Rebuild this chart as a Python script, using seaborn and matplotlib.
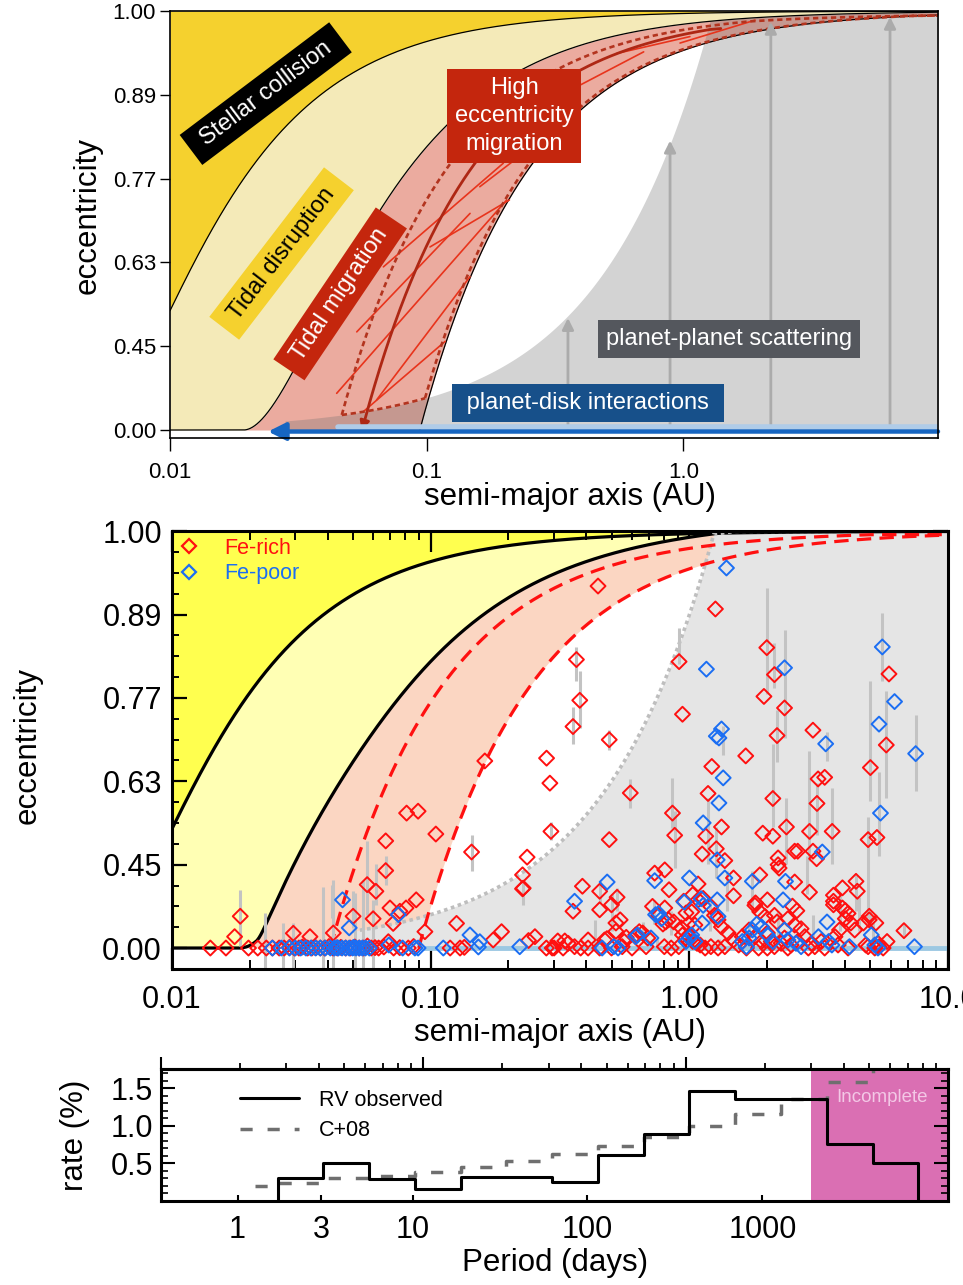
import numpy as np
import pandas as pd
import matplotlib
matplotlib.use("Agg")
import matplotlib.pyplot as plt
import seaborn as sns
from matplotlib.lines import Line2D
from matplotlib.ticker import (FixedLocator, FixedFormatter, NullLocator,
                               NullFormatter, LogLocator)

sns.set_theme(style="white")
plt.rcParams["font.family"] = ["Liberation Sans", "DejaVu Sans"]
plt.rcParams.update({
    "text.color": "black", "axes.labelcolor": "black",
    "xtick.color": "black", "ytick.color": "black",
    "axes.edgecolor": "black", "axes.linewidth": 1.1,
})

# ------------------------------------------------------------------ data
# eccentricity axis is linear in e^2
ecc_sq_major = [0.0, 0.2, 0.4, 0.6, 0.8, 1.0]
ecc_major_labels = ["0.00", "0.45", "0.63", "0.77", "0.89", "1.00"]
ecc_sq_minor = [0.05, 0.10, 0.15, 0.25, 0.30, 0.35, 0.45, 0.50, 0.55,
                0.65, 0.70, 0.75, 0.85, 0.90, 0.95]
sma_major = [0.01, 0.1, 1.0, 10.0]
sma_labels_top = ["0.01", "0.1", "1.0", ""]
sma_labels_mid = ["0.01", "0.10", "1.00", "10.0"]

# schematic boundaries, upper panel (AU)
q_collision, p_collision = 0.005, 1.1   # 1 - e = (q / a)^p at the stellar surface
top_q_disrupt, top_p_disrupt = 0.0193, 1.05
top_L_edge = 0.094            # a(1-e^2) closing the tidal-migration band
top_L_inner, top_L_outer = 0.045, 0.091
top_L_track = 0.056
top_a_scatter = 1.3           # e^2 = a / a_scatter
top_a_disk = 0.028

# thin tidal tracks: start (a, e) -> end (a, e)
track_a0 = [0.0446, 0.0566, 0.0534, 0.0678, 0.0638, 0.103, 0.161, 0.36, 0.55, 0.97]
track_e0 = [0.296, 0.209, 0.484, 0.624, 0.268, 0.661, 0.762, 0.90, 0.948, 0.961]
track_a1 = [0.205, 0.118, 0.1475, 0.1988, 0.1475, 0.21, 0.395, 0.70, 1.06, 1.9]
track_e1 = [0.741, 0.46, 0.719, 0.798, 0.605, 0.741, 0.874, 0.95, 0.969, 0.989]

# scattering arrows: semi-major axis and eccentricity reached
kick_a = [0.355, 0.887, 2.19, 6.38]
kick_e = [0.517, 0.831, 0.987, 0.993]

# schematic boundaries, middle panel (AU)
mid_q_disrupt = 0.0185
mid_a_disrupt = 0.0213
mid_L1, mid_L2 = 0.041, 0.090
mid_a_scatter = 1.25
mid_a_scatter_start = 0.05
mid_a_disk = 0.093

# observed planets (a [AU], e)
rich_inner = [(0.0808, 0.569), (0.0895, 0.573), (0.0671, 0.507), (0.0671, 0.431),
              (0.0569, 0.390), (0.0615, 0.369), (0.0880, 0.340), (0.0697, 0.310),
              (0.0804, 0.310), (0.0761, 0.297), (0.0184, 0.276), (0.0502, 0.276),
              (0.0600, 0.265), (0.0175, 0.165), (0.0295, 0.188), (0.0342, 0.165),
              (0.0421, 0.190), (0.0717, 0.243), (0.0687, 0.123), (0.0951, 0.198)]
rich_circular = [(0.0141, 0), (0.0162, 0), (0.0198, 0), (0.0215, 0), (0.0232, 0),
                 (0.0245, 0), (0.0260, 0), (0.0272, 0), (0.0285, 0.04), (0.0298, 0),
                 (0.0310, 0), (0.0320, 0.05), (0.0335, 0), (0.0348, 0), (0.0360, 0.03),
                 (0.0375, 0), (0.0390, 0), (0.0405, 0.06), (0.0420, 0), (0.0436, 0),
                 (0.0450, 0.04), (0.0470, 0), (0.0490, 0), (0.0510, 0.05), (0.0530, 0),
                 (0.0550, 0), (0.0570, 0.07), (0.0590, 0), (0.0610, 0.03), (0.0630, 0),
                 (0.0660, 0.05), (0.0720, 0), (0.0760, 0.03), (0.0820, 0), (0.0860, 0.06),
                 (0.119, 0), (0.130, 0), (0.135, 0.04)]
rich_warm = [(0.126, 0.243), (0.1745, 0.139), (0.188, 0.198), (0.228, 0.379),
             (0.239, 0.134), (0.253, 0.165), (0.280, 0), (0.295, 0), (0.1048, 0.523),
             (0.144, 0.480), (0.162, 0.670), (0.236, 0.467), (0.2266, 0.419),
             (0.2266, 0.377), (0.4435, 0.932), (0.366, 0.832), (0.377, 0.771),
             (0.355, 0.729), (0.490, 0.707), (0.2806, 0.675), (0.289, 0.629),
             (0.912, 0.829), (0.940, 0.749), (0.591, 0.610), (0.860, 0.569),
             (0.877, 0.520), (0.490, 0.510), (0.2917, 0.529), (0.386, 0.385),
             (0.450, 0.369), (0.5255, 0.349), (0.500, 0.322), (0.450, 0.303),
             (0.355, 0.297), (0.803, 0.433), (0.734, 0.424), (0.834, 0.374),
             (0.720, 0.316), (0.803, 0.310), (0.52, 0.245), (0.52, 0.20), (0.54, 0.26),
             (0.56, 0.125), (0.57, 0.16), (0.406, 0.139), (0.406, 0), (0.45, 0),
             (0.31, 0.13), (0.33, 0.13), (0.34, 0.106), (0.30, 0), (0.325, 0),
             (0.47, 0.139), (0.48, 0.15), (0.64, 0.198), (0.66, 0.19), (0.62, 0.177),
             (0.69, 0.155), (0.68, 0.057), (0.76, 0.28), (0.79, 0.24), (0.81, 0.25),
             (0.83, 0.26), (0.87, 0.25), (0.93, 0.22), (0.97, 0.29), (0.99, 0.24),
             (0.94, 0.177), (0.97, 0.155), (0.36, 0.057), (0.38, 0), (0.5, 0),
             (0.55, 0.057), (0.60, 0), (0.80, 0.057), (0.85, 0), (0.91, 0.057),
             (0.95, 0.335)]
rich_cold = [(1.26, 0.902), (1.99, 0.849), (2.13, 0.81), (1.94, 0.777), (2.33, 0.759),
             (2.18, 0.714), (5.9, 0.811), (5.76, 0.698), (3.0, 0.723), (1.65, 0.679),
             (1.22, 0.66), (1.18, 0.609), (3.14, 0.637), (3.33, 0.64), (5.0, 0.658),
             (2.10, 0.599), (3.11, 0.589), (1.33, 0.539), (1.156, 0.518), (1.92, 0.525),
             (2.1, 0.518), (2.37, 0.539), (2.91, 0.529), (3.56, 0.529), (4.9, 0.51),
             (5.3, 0.515), (1.27, 0.488), (1.12, 0.475), (1.37, 0.458), (2.55, 0.482),
             (2.62, 0.482), (3.0, 0.482), (3.1, 0.463), (2.2, 0.465), (2.2, 0.447),
             (2.22, 0.438), (1.48, 0.41), (1.87, 0.419), (2.55, 0.398), (1.08, 0.392),
             (1.48, 0.354), (2.91, 0.366), (3.6, 0.356), (3.9, 0.38), (4.4, 0.40),
             (4.45, 0.369), (1.8, 0.329), (2.0, 0.34), (3.6, 0.322), (3.9, 0.31),
             (1.03, 0.358), (2.5, 0.317), (2.6, 0.299), (4.95, 0.276), (1.02, 0.295),
             (1.05, 0.235), (1.0, 0.165), (1.03, 0.125), (1.07, 0.106), (1.10, 0.085),
             (1.08, 0.34), (1.13, 0.345), (1.21, 0.315), (1.25, 0.28), (1.29, 0.26),
             (1.33, 0.225), (1.41, 0.19), (1.79, 0.32), (1.87, 0.295), (1.96, 0.275),
             (2.13, 0.28), (2.18, 0.25), (2.4, 0.265), (2.55, 0.235), (2.7, 0.215),
             (3.6, 0.335), (4.0, 0.30), (4.1, 0.288), (4.0, 0.265), (4.2, 0.245),
             (4.7, 0.245), (4.95, 0.26), (5.25, 0.245), (4.9, 0.057), (5.2, 0),
             (5.35, 0.106), (5.8, 0.125), (6.74, 0.204), (1.48, 0.139), (1.6, 0.165),
             (1.7, 0.208), (1.79, 0.165), (1.9, 0.125), (2.0, 0.19), (2.07, 0.125),
             (2.13, 0.057), (2.26, 0.106), (2.33, 0.155), (2.47, 0.085), (2.62, 0.125),
             (2.79, 0.165), (2.96, 0.106), (3.05, 0.057), (3.23, 0.125), (3.65, 0.165),
             (3.75, 0.085), (3.8, 0.208), (4.1, 0), (4.35, 0.208), (4.8, 0.085),
             (5.4, 0.057), (5.6, 0), (1.15, 0), (1.21, 0.057), (1.29, 0), (1.37, 0.057),
             (1.55, 0.085), (1.66, 0), (1.85, 0), (2.0, 0), (2.4, 0), (2.88, 0), (3.33, 0)]

poor_inner = [(0.0457, 0.34), (0.0751, 0.283), (0.0485, 0.22), (0.069, 0.085),
              (0.142, 0.177), (0.155, 0.123), (0.153, 0.05), (0.221, 0.056),
              (0.112, 0), (0.0895, 0), (0.087, 0), (0.078, 0), (0.0245, 0),
              (0.0265, 0), (0.0285, 0), (0.030, 0), (0.0315, 0), (0.033, 0),
              (0.0345, 0), (0.036, 0), (0.0375, 0), (0.0392, 0), (0.041, 0),
              (0.0425, 0), (0.044, 0), (0.0455, 0), (0.047, 0), (0.0485, 0),
              (0.050, 0), (0.0515, 0), (0.053, 0), (0.0545, 0), (0.056, 0),
              (0.058, 0), (0.0435, 0.03), (0.0505, 0.04)]
poor_warm = [(0.481, 0.398), (0.36, 0.335), (0.734, 0.402), (0.955, 0.332),
             (0.74, 0.283), (0.46, 0), (0.51, 0.057), (0.53, 0), (0.62, 0.165),
             (0.63, 0.177), (0.71, 0.155), (0.76, 0.288), (0.78, 0.265), (0.97, 0.125)]
poor_cold = [(1.0, 0.41), (1.39, 0.955), (1.163, 0.818), (2.33, 0.82), (5.56, 0.85),
             (6.2, 0.769), (5.4, 0.733), (7.48, 0.683), (3.36, 0.70), (1.33, 0.725),
             (1.27, 0.713), (1.30, 0.71), (1.35, 0.639), (1.30, 0.59), (1.13, 0.548),
             (5.47, 0.569), (3.26, 0.48), (1.28, 0.46), (1.37, 0.41), (1.75, 0.40),
             (2.35, 0.40), (1.28, 0.34), (1.11, 0.344), (2.3, 0.34), (1.13, 0.32),
             (1.29, 0.275), (1.12, 0.245), (1.0, 0.155), (1.05, 0.125), (1.02, 0.177),
             (1.6, 0.125), (1.66, 0.057), (1.7, 0.155), (1.75, 0.208), (1.82, 0.24),
             (1.9, 0.225), (2.0, 0.177), (2.1, 0.125), (2.33, 0.208), (2.4, 0.139),
             (2.58, 0.106), (2.7, 0.057), (3.15, 0.165), (3.4, 0.25), (3.45, 0.125),
             (3.55, 0.085), (4.15, 0.057), (5.04, 0.177), (5.2, 0.085), (5.35, 0),
             (7.4, 0.057)]

# eccentricity uncertainties: (a, lower e, upper e)
ecc_errors = [(0.0184, 0.07, 0.373), (0.0569, 0.28, 0.507), (0.0615, 0.32, 0.45),
              (0.0671, 0.39, 0.47), (0.0415, 0.27, 0.39), (0.0502, 0.22, 0.37),
              (0.0229, -0.22, 0.289), (0.0270, -0.22, 0.243), (0.0295, -0.22, 0.243),
              (0.0385, -0.22, 0.384), (0.0421, -0.22, 0.404), (0.0510, -0.22, 0.362),
              (0.0549, -0.22, 0.404), (0.0600, -0.22, 0.339),
              (0.366, 0.80, 0.85), (0.377, 0.727, 0.815), (0.355, 0.70, 0.76),
              (0.49, 0.69, 0.724), (0.912, 0.825, 0.876), (0.591, 0.58, 0.636),
              (0.86, 0.537, 0.639), (0.877, 0.438, 0.573), (0.144, 0.429, 0.521),
              (0.2917, 0.51, 0.55), (0.2266, 0.322, 0.395), (0.45, 0.33, 0.40),
              (0.5255, 0.30, 0.38), (1.99, 0.78, 0.929), (2.13, 0.79, 0.855),
              (2.33, 0.71, 0.874), (2.18, 0.669, 0.756), (5.56, 0.80, 0.897),
              (5.76, 0.60, 0.785), (5.0, 0.593, 0.80), (7.48, 0.613, 0.748),
              (3.4, 0.67, 0.72), (2.9, 0.456, 0.687), (3.1, 0.52, 0.63),
              (3.56, 0.45, 0.62), (2.37, 0.45, 0.60), (2.1, 0.54, 0.70),
              (1.35, 0.68, 0.73), (1.18, 0.45, 0.60), (1.27, 0.41, 0.54),
              (4.9, 0.27, 0.56), (5.4, 0.47, 0.65), (1.4, 0.30, 0.43),
              (1.75, 0.30, 0.43), (2.85, 0.36, 0.47), (4.4, 0.30, 0.42),
              (5.0, 0.25, 0.30), (0.43, 0.10, 0.26), (0.50, 0.20, 0.36),
              (0.66, 0.12, 0.25), (0.85, 0.18, 0.30), (1.2, 0.20, 0.35),
              (1.7, 0.10, 0.25), (2.2, 0.10, 0.30), (3.0, 0.15, 0.28),
              (3.8, 0.20, 0.36), (4.5, 0.20, 0.35), (5.1, 0.08, 0.25),
              (6.74, 0.17, 0.24), (0.75, 0.03, 0.15), (1.3, 0.0, 0.15),
              (2.6, 0.0, 0.12), (4.0, 0.0, 0.13), (0.73, 0.24, 0.34)]

# occurrence rate histograms (period bins in days, rate in %)
rv_edges = [1.693, 3.093, 5.648, 10.31, 18.84, 34.41, 62.85, 114.8, 209.7,
            383.0, 699.5, 1277.6, 2333.6, 4262.0, 7784.0]
rv_rate = [0.30, 0.51, 0.29, 0.155, 0.32, 0.32, 0.25, 0.61, 0.895, 1.47,
           1.365, 1.365, 0.76, 0.505]
c08_edges = [1.253, 1.693, 3.093, 5.648, 10.31, 18.84, 34.41, 62.85, 114.8,
             209.7, 383.0, 699.5, 1277.6, 2333.6, 4262.0, 7784.0]
c08_rate = [0.20, 0.237, 0.30, 0.335, 0.39, 0.455, 0.525, 0.626, 0.73, 0.85,
            0.993, 1.164, 1.352, 1.58, 1.95]
incomplete_from = 1897.0
period_ticks = [1, 3, 10, 100, 1000]
period_labels = ["1", "3", "10", "100", "1000"]
rate_ticks = [0.5, 1.0, 1.5]
rate_labels = ["0.5", "1.0", "1.5"]

# ------------------------------------------------------------- helpers
def e_fwd(e):
    e = np.asarray(e, dtype=float)
    return np.sign(e) * e ** 2


def e_inv(y):
    y = np.asarray(y, dtype=float)
    return np.sign(y) * np.sqrt(np.abs(y))


def e_periastron(a, q, p=1.0):
    return np.clip(1.0 - (q / a) ** p, 0.0, 1.0)


def e_ang_mom(a, L):
    return np.sqrt(np.clip(1.0 - L / a, 0.0, 1.0))


def e_scatter(a, a_s):
    return np.sqrt(np.clip(a / a_s, 0.0, 1.0))


def e_roche_mid(a, q, a_c, k=35.0):
    # smooth maximum of the periastron limit and the circularised limit
    e1 = e_periastron(a, q)
    e2 = np.sqrt(np.clip(1.0 - (a_c / a) ** (2.0 / 3.0), 0.0, 1.0))
    hi = np.maximum(e1, e2)
    e = hi + np.log(np.exp(k * (e1 - hi)) + np.exp(k * (e2 - hi))) / k
    e = np.where((e1 <= 0) & (e2 <= 0), 0.0, e)
    return np.clip(e, 0.0, 1.0)


def curve(ax, x, y, **kw):
    sns.lineplot(x=np.asarray(x, float), y=np.asarray(y, float), ax=ax,
                 estimator=None, sort=False, legend=False, **kw)


def open_diamonds(ax, pts, color):
    df = pd.DataFrame(pts, columns=["a", "e"])
    n0 = len(ax.collections)
    sns.scatterplot(data=df, x="a", y="e", ax=ax, marker="D", s=58,
                    color=color, linewidth=0, legend=False, zorder=7)
    coll = ax.collections[n0]
    coll.set_facecolor("none")
    coll.set_edgecolor(color)
    coll.set_linewidth(1.4)


def step_path(edges, vals, drop_start, drop_end):
    xs, ys = [], []
    if drop_start:
        xs.append(edges[0]); ys.append(0.0)
    for i, v in enumerate(vals):
        xs += [edges[i], edges[i + 1]]
        ys += [v, v]
    if drop_end:
        xs.append(edges[-1]); ys.append(0.0)
    return xs, ys


def period_to_sma(p):
    p = np.asarray(p, float)
    return np.power(np.clip(p, 1e-9, None) / 365.25, 2.0 / 3.0)


def sma_to_period(a):
    a = np.asarray(a, float)
    return 365.25 * np.power(np.clip(a, 1e-9, None), 1.5)


# ---------------------------------------------------------------- figure
W, H = 963.0, 1285.0
fig = plt.figure(figsize=(W / 100, H / 100), dpi=100)


def px_axes(left, top, right, bottom):
    return fig.add_axes([left / W, 1 - bottom / H, (right - left) / W, (bottom - top) / H])


ax1 = px_axes(170, 11, 938, 438)
ax2 = px_axes(171.7, 531.3, 948.3, 969.3)
ax3 = px_axes(161, 1069.3, 948.3, 1200.7)

for ax in (ax1, ax2):
    ax.set_xscale("log")
    ax.set_yscale("function", functions=(e_fwd, e_inv))

agrid = np.logspace(-2, 1, 3000)

# ============================ upper panel: schematic ============================
YEL_T, BEIGE_T, PINK_T = "#F5D12E", "#F4EAB8", "#EBAB9F"
RED_BOX, RED_LINE, RED_DARK, RED_DASH = "#C4260D", "#E8341C", "#AE2714", "#B3341F"

ec = e_periastron(agrid, q_collision, p_collision)
ed = e_periastron(agrid, top_q_disrupt, top_p_disrupt)
eL = e_ang_mom(agrid, top_L_edge)
es = e_scatter(agrid, top_a_scatter)

ax1.fill_between(agrid, ec, 1.0, color=YEL_T, lw=0, zorder=0.5)
ax1.fill_between(agrid, ed, ec, color=BEIGE_T, lw=0, zorder=0.5)
ax1.fill_between(agrid, eL, ed, where=ed > eL, interpolate=True, color=PINK_T, lw=0, zorder=0.6)
m_disk = agrid >= top_a_disk
ax1.fill_between(agrid[m_disk], 0.0, np.minimum(es, ed)[m_disk], color="#6E6E6E",
                 alpha=0.3, lw=0, zorder=0.8)

curve(ax1, agrid, ec, color="black", lw=0.9, zorder=3)
curve(ax1, agrid, ed, color="black", lw=0.9, zorder=3)
mL = agrid >= top_L_edge
curve(ax1, agrid[mL], eL[mL], color="black", lw=0.9, zorder=3)

# thin tidal tracks
for a0, e0, a1, e1 in zip(track_a0, track_e0, track_a1, track_e1):
    curve(ax1, [a0, a1], [e0, e1], color=RED_LINE, lw=1.2, zorder=3.2)

# dashed envelope of the migration tracks
e_in = np.minimum(e_ang_mom(agrid, top_L_inner), ed - 0.004)
e_out = np.minimum(e_ang_mom(agrid, top_L_outer), ed - 0.004)
a_lo = agrid[np.argmax(e_in ** 2 >= agrid / top_a_scatter)]
a_hi = agrid[np.argmax(e_out ** 2 >= agrid / top_a_scatter)]
dash_kw = dict(color=RED_DASH, lw=1.9, linestyle=(0, (2.0, 1.4)), zorder=3.4)
m = agrid >= a_lo
curve(ax1, agrid[m], e_in[m], **dash_kw)
m = (agrid >= a_lo) & (agrid <= a_hi)
curve(ax1, agrid[m], es[m], **dash_kw)
m = agrid >= a_hi
curve(ax1, agrid[m], e_out[m], **dash_kw)

# constant angular momentum track with arrow
e_tr = np.minimum(e_ang_mom(agrid, top_L_track), ed - 0.01)
m = (agrid >= top_L_track * 1.02) & (agrid <= 1.4)
curve(ax1, agrid[m], e_tr[m], color=RED_DARK, lw=2.0, zorder=3.5)
a_start = top_L_track * 1.02
ax1.annotate("", xy=(top_L_track * 0.995, -0.035),
             xytext=(a_start, float(e_ang_mom(np.array([a_start]), top_L_track)[0])),
             arrowprops=dict(arrowstyle="-|>", color=RED_DARK, lw=2.0,
                             mutation_scale=14, shrinkA=0, shrinkB=0), zorder=3.5)

# planet-planet scattering kicks
for a_k, e_k in zip(kick_a, kick_e):
    ax1.annotate("", xy=(a_k, e_k), xytext=(a_k, 0.0),
                 arrowprops=dict(arrowstyle="-|>", color="#ABABAB", lw=2.0,
                                 mutation_scale=17, shrinkA=0, shrinkB=0), zorder=4)

# disk migration (inward)
curve(ax1, [0.045, 9.81], [0.089, 0.089], color="#B0CCE8", lw=4.0, zorder=4.2)
ax1.annotate("", xy=(0.0241, -0.06), xytext=(9.81, -0.06),
             arrowprops=dict(arrowstyle="-|>", color="#1766C2", lw=3.2,
                             mutation_scale=26, shrinkA=0, shrinkB=0), zorder=4.5)

box_labels = [
    (" Stellar collision ", 0.0236, 0.896, 37, "white", "#000000"),
    (" Tidal disruption ", 0.0272, 0.649, 52.5, "black", YEL_T),
    (" Tidal migration ", 0.046, 0.570, 56, "white", RED_BOX),
    ("High\neccentricity\nmigration", 0.2188, 0.8657, 0, "white", RED_BOX),
    ("planet-planet scattering", 1.505, 0.466, 0, "white", "#54575D"),
    (" planet-disk interactions ", 0.425, 0.2538, 0, "white", "#17508A"),
]
for txt, xa, ye, rot, fc_txt, fc_box in box_labels:
    ax1.text(xa, ye, txt, rotation=rot, rotation_mode="anchor", ha="center",
             va="center", color=fc_txt, fontsize=17, linespacing=1.35, zorder=10,
             bbox=dict(boxstyle="square,pad=0.33", fc=fc_box, ec="none"))

ax1.set_xlim(0.01, 9.81)
ax1.set_ylim(-0.138, 1.0)
ax1.xaxis.set_major_locator(FixedLocator(sma_major))
ax1.xaxis.set_major_formatter(FixedFormatter(sma_labels_top))
ax1.xaxis.set_minor_locator(NullLocator())
ax1.yaxis.set_major_locator(FixedLocator(list(np.sqrt(ecc_sq_major))))
ax1.yaxis.set_major_formatter(FixedFormatter(ecc_major_labels))
ax1.yaxis.set_minor_locator(NullLocator())
ax1.tick_params(axis="x", which="major", direction="out", length=9, width=1.0,
                labelsize=16, pad=8, bottom=True, top=False)
ax1.tick_params(axis="y", which="major", direction="out", length=7, width=1.0,
                labelsize=16, pad=3, left=True, right=False)
for sp in ax1.spines.values():
    sp.set_linewidth(1.2)
    sp.set_zorder(6)
ax1.set_xlabel("semi-major axis (AU)", fontsize=22.5)
ax1.set_ylabel("eccentricity", fontsize=22.5)
ax1.xaxis.label.set_va("center")
ax1.yaxis.label.set_va("center")
ax1.xaxis.set_label_coords(0.521, -0.138)
ax1.yaxis.set_label_coords(-0.107, 0.522)

# ============================ middle panel: observed planets ============================
YEL_M, LY_M, PINK_M, GRAY_M = "#FFFF4F", "#FFFFB4", "#FBD6C2", "#E5E5E5"
RED_M, BLUE_M = "#FF1010", "#1B6EF3"

ec2 = e_periastron(agrid, q_collision, p_collision)
ed2 = e_roche_mid(agrid, mid_q_disrupt, mid_a_disrupt)
eL1 = e_ang_mom(agrid, mid_L1)
eL2 = e_ang_mom(agrid, mid_L2)
es2 = e_scatter(agrid, mid_a_scatter)

ax2.fill_between(agrid, ec2, 1.0, color=YEL_M, lw=0, zorder=0.5)
ax2.fill_between(agrid, ed2, ec2, color=LY_M, lw=0, zorder=0.5)
ax2.fill_between(agrid, eL2, ed2, where=ed2 > eL2, interpolate=True, color=PINK_M,
                 lw=0, zorder=0.6)
m_sc = agrid >= mid_a_scatter_start
ax2.fill_between(agrid[m_sc], 0.0, np.minimum(es2, ed2)[m_sc], color=GRAY_M, lw=0,
                 zorder=0.8)

curve(ax2, [mid_a_disk, 10.0], [0.0, 0.0], color="#9CC8E2", lw=3.5, zorder=2)
curve(ax2, agrid, ec2, color="black", lw=2.3, zorder=3)
curve(ax2, agrid, ed2, color="black", lw=2.3, zorder=3)
red_dash = dict(color=RED_M, lw=2.3, linestyle=(0, (4.5, 2.6)), zorder=3.2)
m = agrid >= mid_L1
curve(ax2, agrid[m], np.minimum(eL1, ed2 - 0.004)[m], **red_dash)
m = agrid >= mid_L2
curve(ax2, agrid[m], np.minimum(eL2, ed2 - 0.004)[m], **red_dash)
m = (agrid >= mid_a_scatter_start) & (es2 <= ed2)
curve(ax2, agrid[m], es2[m], color="#BEBEBE", lw=2.6, linestyle=(0, (1, 1)), zorder=3.1)

err_a, err_lo, err_hi = zip(*ecc_errors)
ax2.vlines(err_a, err_lo, err_hi, color="#C3C3C3", lw=2.2, zorder=5)

open_diamonds(ax2, rich_circular + rich_inner + rich_warm + rich_cold, RED_M)
open_diamonds(ax2, poor_inner + poor_warm + poor_cold, BLUE_M)

handles = [Line2D([], [], marker="D", ls="none", mfc="none", mec=RED_M, mew=1.6, ms=7.5),
           Line2D([], [], marker="D", ls="none", mfc="none", mec=BLUE_M, mew=1.6, ms=7.5)]
ax2.legend(handles, ["Fe-rich", "Fe-poor"], loc="upper left", bbox_to_anchor=(0.0, 1.0),
           frameon=False, fontsize=15.5, handlelength=1.0, handletextpad=1.15,
           labelspacing=0.22, borderpad=0.2, borderaxespad=0.1,
           labelcolor=[RED_M, BLUE_M])

ax2.set_xlim(0.01, 10.0)
ax2.set_ylim(-0.226, 1.0)
ax2.xaxis.set_major_locator(FixedLocator(sma_major))
ax2.xaxis.set_major_formatter(FixedFormatter(sma_labels_mid))
ax2.xaxis.set_minor_locator(LogLocator(base=10, subs=np.arange(2, 10), numticks=20))
ax2.xaxis.set_minor_formatter(NullFormatter())
ax2.yaxis.set_major_locator(FixedLocator(list(np.sqrt(ecc_sq_major))))
ax2.yaxis.set_major_formatter(FixedFormatter(ecc_major_labels))
ax2.yaxis.set_minor_locator(FixedLocator(list(np.sqrt(ecc_sq_minor))))
ax2.tick_params(axis="x", which="major", direction="in", length=15, width=1.6,
                labelsize=22, pad=11, bottom=True, top=True)
ax2.tick_params(axis="x", which="minor", direction="in", length=6.5, width=1.4,
                bottom=True, top=True)
ax2.tick_params(axis="y", which="major", direction="in", length=11, width=1.6,
                labelsize=22, pad=7, left=True, right=True)
ax2.tick_params(axis="y", which="minor", direction="in", length=5, width=1.4,
                left=True, right=True)
for sp in ax2.spines.values():
    sp.set_linewidth(2.2)
    sp.set_zorder(8)
ax2.set_xlabel("semi-major axis (AU)", fontsize=22.5)
ax2.set_ylabel("eccentricity", fontsize=22.5)
ax2.xaxis.label.set_va("center")
ax2.yaxis.label.set_va("center")
ax2.xaxis.set_label_coords(0.5, -0.145)
ax2.yaxis.set_label_coords(-0.185, 0.512)

# ============================ bottom panel: occurrence rate ============================
ax3.set_xscale("log")
ax3.axvspan(incomplete_from, 2.0e4, color="#DA6FB3", lw=0, zorder=0.5)

xs, ys = step_path(rv_edges, rv_rate, True, True)
curve(ax3, xs, ys, color="black", lw=2.2, zorder=3)
xs, ys = step_path(c08_edges, c08_rate, False, False)
c08_style = dict(color="#6F6F6F", lw=2.5, linestyle=(0, (3.5, 4.3)))
curve(ax3, xs, ys, zorder=2.5, **c08_style)

ax3.text(4830, 1.383, "Incomplete", color="#F3C8E6", fontsize=13.5, ha="center",
         va="center", zorder=4)

leg_handles = [Line2D([], [], color="black", lw=2.2), Line2D([], [], **c08_style)]
ax3.legend(leg_handles, ["RV observed", "C+08"], loc="upper left",
           bbox_to_anchor=(0.1003, 0.845), frameon=False, fontsize=15.5,
           handlelength=2.75, handletextpad=0.9, labelspacing=0.45,
           borderpad=0.0, borderaxespad=0.0)

ax3.set_xlim(0.365, 11550)
ax3.set_ylim(0.0, 1.755)
ax3.xaxis.set_major_locator(FixedLocator(period_ticks))
ax3.xaxis.set_major_formatter(FixedFormatter(period_labels))
ax3.xaxis.set_minor_locator(NullLocator())
ax3.yaxis.set_major_locator(FixedLocator(rate_ticks))
ax3.yaxis.set_major_formatter(FixedFormatter(rate_labels))
ax3.yaxis.set_minor_locator(FixedLocator(list(np.round(np.arange(0.1, 1.75, 0.1), 2))))
ax3.tick_params(axis="x", which="major", direction="in", length=4.5, width=1.5,
                labelsize=22, pad=10, bottom=True, top=False)
ax3.tick_params(axis="y", which="major", direction="in", length=10, width=1.5,
                labelsize=22, pad=6, left=True, right=True)
ax3.tick_params(axis="y", which="minor", direction="in", length=5, width=1.2,
                left=True, right=True)
for sp in ax3.spines.values():
    sp.set_linewidth(2.2)
    sp.set_zorder(8)

sec = ax3.secondary_xaxis("top", functions=(period_to_sma, sma_to_period))
sec.xaxis.set_major_locator(FixedLocator(sma_major))
sec.xaxis.set_minor_locator(LogLocator(base=10, subs=np.arange(2, 10), numticks=20))
sec.xaxis.set_major_formatter(NullFormatter())
sec.xaxis.set_minor_formatter(NullFormatter())
sec.tick_params(which="major", direction="out", length=9, width=1.5)
sec.tick_params(which="minor", direction="out", length=4.5, width=1.3)
sec.spines["top"].set_linewidth(2.2)

ax3.set_xlabel("Period (days)", fontsize=22.5)
ax3.set_ylabel("rate (%)", fontsize=22.5)
ax3.xaxis.label.set_va("center")
ax3.yaxis.label.set_va("center")
ax3.xaxis.set_label_coords(0.5, -0.474)
ax3.yaxis.set_label_coords(-0.109, 0.5)

fig.savefig("out.png", dpi=100)
